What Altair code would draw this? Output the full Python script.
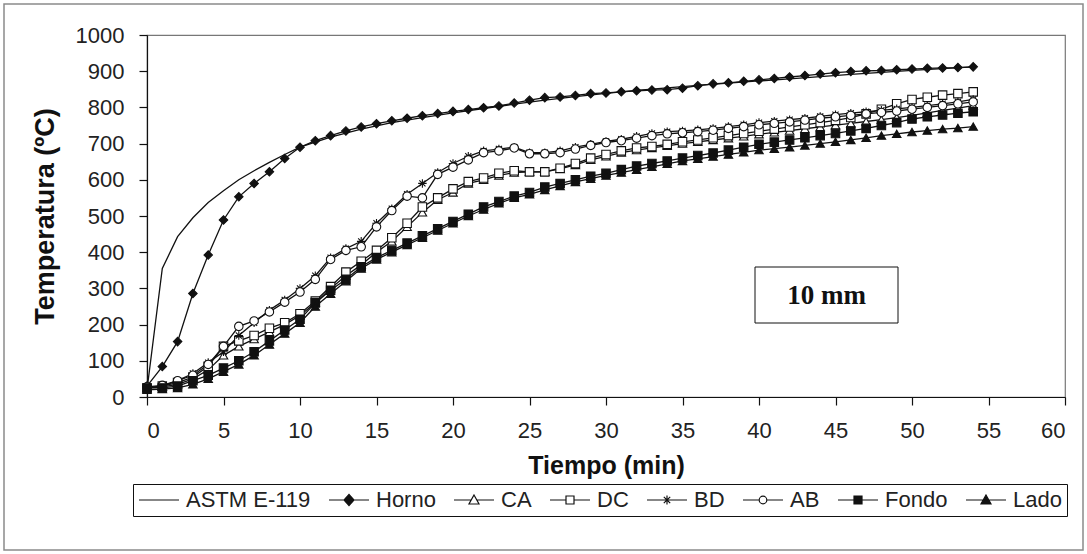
import altair as alt
import pandas as pd

# ---------------- data ----------------
minutes = list(range(55))

astm_minutes = [0, 1, 2, 3, 4, 5, 6, 7, 8, 9, 10, 12, 14, 16, 18, 20, 22, 24, 26, 28,
                30, 32, 34, 36, 38, 40, 42, 44, 46, 48, 50, 52, 54]
astm_e119 = [20, 355, 443, 495, 537, 570, 600, 625, 648, 670, 690, 718, 740, 758, 772, 785,
             797, 809, 820, 830, 839, 847, 854, 861, 867, 873, 879, 885, 891, 897, 902, 907, 912]

horno = [30, 84, 153, 286, 392, 489, 553, 590, 622, 659,
         690, 708, 722, 735, 746, 755, 763, 770, 777, 783,
         789, 794, 799, 804, 812, 820, 827, 829, 833, 838,
         840, 843, 846, 848, 849, 853, 860, 865, 868, 872,
         876, 880, 884, 888, 892, 896, 899, 901, 902, 904,
         906, 908, 909, 910, 912]

ca = [25, 28, 35, 50, 75, 115, 140, 160, 180, 200,
      225, 260, 300, 335, 365, 400, 430, 470, 510, 545,
      565, 590, 600, 612, 620, 622, 622, 630, 641, 655,
      665, 675, 682, 688, 694, 700, 705, 710, 715, 720,
      726, 731, 736, 741, 746, 751, 756, 761, 766, 772,
      778, 785, 792, 798, 805]

dc = [25, 30, 40, 55, 85, 140, 155, 170, 190, 205,
      230, 265, 305, 345, 375, 405, 440, 480, 525, 550,
      575, 595, 605, 618, 625, 622, 622, 632, 645, 660,
      670, 680, 688, 692, 698, 705, 710, 716, 722, 728,
      734, 740, 746, 752, 758, 764, 772, 782, 795, 810,
      822, 828, 834, 838, 843]

bd = [25, 30, 45, 65, 95, 125, 170, 205, 240, 268,
      300, 335, 385, 410, 430, 480, 520, 560, 590, 620,
      645, 665, 680, 685, 690, 675, 675, 680, 690, 698,
      706, 712, 720, 728, 733, 735, 738, 742, 747, 752,
      758, 762, 766, 770, 775, 780, 784, 788, 792, 796,
      800, 805, 810, 815, 822]

ab = [28, 32, 45, 60, 90, 140, 195, 210, 235, 262,
      290, 325, 380, 405, 415, 470, 515, 555, 550, 615,
      635, 655, 675, 680, 688, 672, 672, 675, 685, 695,
      703, 708, 715, 722, 727, 730, 733, 737, 742, 747,
      752, 756, 760, 765, 770, 774, 778, 782, 786, 790,
      795, 800, 805, 810, 815]

fondo = [25, 25, 30, 45, 60, 80, 100, 125, 155, 185,
         215, 260, 295, 325, 360, 385, 405, 425, 445, 465,
         485, 505, 525, 540, 555, 565, 580, 590, 600, 610,
         618, 628, 638, 645, 652, 660, 667, 674, 682, 690,
         698, 704, 710, 716, 722, 728, 735, 742, 750, 758,
         768, 774, 779, 784, 788]

lado = [20, 22, 25, 35, 50, 70, 90, 115, 145, 175,
        205, 250, 285, 320, 355, 380, 400, 420, 440, 460,
        480, 500, 518, 535, 550, 560, 572, 583, 594, 603,
        612, 620, 628, 636, 644, 652, 658, 664, 670, 676,
        682, 686, 690, 695, 700, 705, 710, 716, 722, 727,
        732, 736, 740, 743, 747]

series_order = ["ASTM E-119", "Horno", "CA", "DC", "BD", "AB", "Fondo", "Lado"]
x_ticks = list(range(0, 61, 5))
y_ticks = list(range(0, 1001, 100))

# ---------------- table ----------------
rows = [dict(serie="ASTM E-119", t=t, temp=v) for t, v in zip(astm_minutes, astm_e119)]
for name, vals in [("Horno", horno), ("CA", ca), ("DC", dc), ("BD", bd),
                   ("AB", ab), ("Fondo", fondo), ("Lado", lado)]:
    rows += [dict(serie=name, t=t, temp=v) for t, v in zip(minutes, vals)]
df = pd.DataFrame(rows)
one = pd.DataFrame({"k": [0]})

FONT = "Liberation Sans, Arial, sans-serif"
BLACK = "#111111"

asterisk = "M-1,0H1M0,-1V1M-0.72,-0.72L0.72,0.72M-0.72,0.72L0.72,-0.72"
point_series = series_order[1:]
marker_shapes = ["diamond", "triangle-up", "square", asterisk, "circle", "square", "triangle-up"]
marker_fill = [BLACK, "white", "white", "white", "white", BLACK, BLACK]
marker_size = 72

# legend symbols: a short line with the marker on it (symbol box is 20px, drawing is 40px)
legend_paths = [
    "M-1,0H3",
    "M-1,0H3M1,-0.55L1.5,0L1,0.55L0.5,0Z",
    "M-1,0H0.7M1.3,0H3M1,-0.5L1.5,0.4L0.5,0.4Z",
    "M-1,0H0.6M1.4,0H3M0.6,-0.4H1.4V0.4H0.6Z",
    "M-1,0H3M1,-0.45V0.45M0.68,-0.32L1.32,0.32M0.68,0.32L1.32,-0.32",
    "M-1,0H0.62M1.38,0H3M0.62,0A0.38,0.38,0,1,0,1.38,0A0.38,0.38,0,1,0,0.62,0Z",
    "M-1,0H3M0.6,-0.4H1.4V0.4H0.6Z",
    "M-1,0H3M1,-0.5L1.5,0.4L0.5,0.4Z",
]
legend_fill = ["white", BLACK, "white", "white", "white", "white", BLACK, BLACK]
legend_stroke = [BLACK] * 8

x_enc = alt.X("t:Q", scale=alt.Scale(domain=[0, 60], nice=False),
              axis=alt.Axis(values=x_ticks, title="Tiempo (min)", titleY=68,
                            titleBaseline="middle", titleFontSize=25))
y_enc = alt.Y("temp:Q", scale=alt.Scale(domain=[0, 1000], nice=False),
              axis=alt.Axis(values=y_ticks, format="d", title="Temperatura (ºC)", titleX=-102,
                            titleY=181, titleAngle=270, titleAlign="center",
                            titleBaseline="middle", titleFontSize=27))

lines = alt.Chart(df).mark_line(color=BLACK, strokeWidth=1.3).encode(
    x=x_enc, y=y_enc, detail="serie:N", order="t:Q")

points = alt.Chart(df).transform_filter("datum.serie != 'ASTM E-119'").mark_point(
    filled=True, stroke=BLACK, strokeWidth=1.1, size=marker_size, opacity=1).encode(
    x=x_enc, y=y_enc,
    shape=alt.Shape("serie:N", scale=alt.Scale(domain=point_series, range=marker_shapes), legend=None),
    fill=alt.Fill("serie:N", scale=alt.Scale(domain=point_series, range=marker_fill), legend=None),
)

leg = alt.Legend(title=None, orient="none", legendX=-14, legendY=449, direction="horizontal")
legend_layer = alt.Chart(df).transform_filter("datum.t < 0").mark_point(
    filled=True, strokeWidth=1.2, size=400, opacity=1).encode(
    x=x_enc, y=y_enc,
    shape=alt.Shape("serie:N", scale=alt.Scale(domain=series_order, range=legend_paths), legend=leg),
    fill=alt.Fill("serie:N", scale=alt.Scale(domain=series_order, range=legend_fill), legend=leg),
    stroke=alt.Stroke("serie:N", scale=alt.Scale(domain=series_order, range=legend_stroke), legend=leg),
)

outer = alt.Chart(one).mark_rect(fill="transparent", stroke="#8a8a8a", strokeWidth=1.5).encode(
    x=alt.value(-143), x2=alt.value(936), y=alt.value(-31), y2=alt.value(515))

label_box = alt.Chart(one).mark_rect(fill="white", stroke=BLACK, strokeWidth=1).encode(
    x=alt.value(608), x2=alt.value(751), y=alt.value(232), y2=alt.value(288))
label_text = alt.Chart(one).mark_text(
    text="10 mm", font="Liberation Serif, Times New Roman, serif", fontWeight="bold",
    fontSize=27, color=BLACK, align="center", baseline="middle").encode(
    x=alt.value(679.5), y=alt.value(261))

chart = alt.layer(outer, lines, points, legend_layer, label_box, label_text).resolve_scale(
    shape="independent", fill="independent", stroke="independent"
).properties(
    width=918, height=362,
    padding={"left": 147, "top": 35, "right": 22, "bottom": 157},
    autosize=alt.AutoSizeParams(type="none"),
    background="white",
).configure_view(
    stroke="#777777", strokeWidth=1.2
).configure_axis(
    grid=False, domainColor=BLACK, domainWidth=1.2, tickColor=BLACK, tickWidth=1.2,
    tickSize=8, labelFont=FONT, labelFontSize=22, labelColor="#222222", labelPadding=15,
    titleFont=FONT, titleFontSize=24, titleFontWeight="bold", titleColor=BLACK,
).configure_legend(
    strokeColor=BLACK, padding=5, labelFont=FONT, labelFontSize=22, labelColor="#222222",
    symbolSize=400, symbolStrokeColor=BLACK, symbolStrokeWidth=1.2, columnPadding=15,
    labelOffset=26, symbolOpacity=1,
)

chart.save("out.html", embed_options={"renderer": "svg", "actions": False})
